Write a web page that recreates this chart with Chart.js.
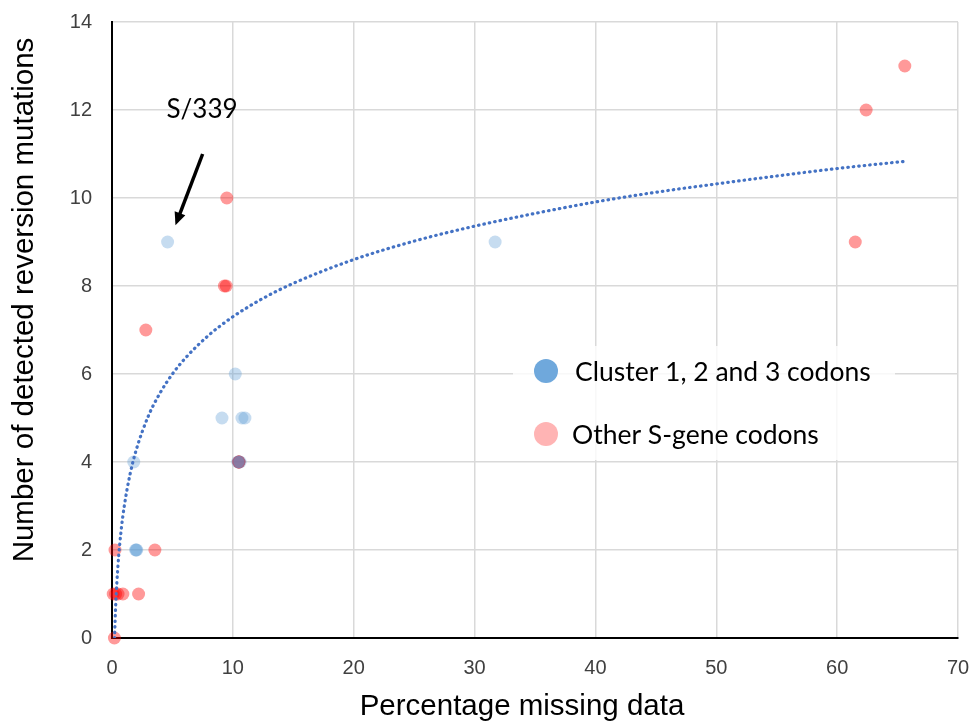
<!DOCTYPE html>
<html>
<head>
<meta charset="utf-8">
<script src="https://cdn.jsdelivr.net/npm/chart.js@4.4.1/dist/chart.umd.min.js"></script>
<style>
  html, body { margin: 0; padding: 0; background: #fff; }
  #wrap { width: 976px; height: 725px; }
</style>
</head>
<body>
<div id="wrap"><canvas id="reversionChart" width="976" height="725"></canvas></div>
<script>
// Данные
const clusterX = [4.6, 31.7, 10.2, 9.1, 10.75, 11.0, 1.8, 1.95, 2.0, 2.05, 10.4, 10.5, 10.6];
const clusterY = [9, 9, 6, 5, 5, 5, 4, 2, 2, 2, 4, 4, 4];

const otherX = [0.2, 0.1, 0.3, 0.5, 0.9, 2.2, 0.25, 3.55, 2.8, 9.3, 9.45, 9.5, 61.5, 62.4, 65.6, 10.5, 10.5, 10.5, 10.5];
const otherY = [0, 1, 1, 1, 1, 1, 2, 2, 7, 8, 8, 10, 9, 12, 13, 4, 4, 4, 4];

const trendX = [0.21, 0.3, 0.5, 0.75, 1, 1.5, 2, 3, 4, 5, 6, 8, 10, 12.5, 15, 20, 25, 30, 35, 40, 45, 50, 55, 60, 65.5];
const trendY = [0.0, 0.71, 1.67, 2.43, 2.97, 3.73, 4.27, 5.04, 5.58, 6.0, 6.34, 6.88, 7.3, 7.72, 8.06, 8.6, 9.02, 9.36, 9.65, 9.91, 10.13, 10.32, 10.5, 10.67, 10.83];

const xTicks = [0, 10, 20, 30, 40, 50, 60, 70];
const yTicks = [0, 2, 4, 6, 8, 10, 12, 14];

const legendLabels = ['Cluster 1, 2 and 3 codons', 'Other S-gene codons'];
const annotationText = 'S/339';
const xTitle = 'Percentage missing data';
const yTitle = 'Number of detected reversion mutations';

function toPoints(xs, ys) {
    return xs.map((x, i) => ({ x: x, y: ys[i] }));
}

// Легенда, подписи осей и стрелка рисуются поверх графика
const overlayPlugin = {
    id: 'overlay',
    beforeDatasetsDraw(chart) {
        const ctx = chart.ctx;
        ctx.save();
        ctx.fillStyle = 'rgba(255,255,255,0.8)';
        ctx.fillRect(513, 346, 382, 114);
        ctx.restore();
    },
    afterDraw(chart) {
        const ctx = chart.ctx;
        const xs = chart.scales.x;
        const ys = chart.scales.y;
        ctx.save();

        // подписи осей
        ctx.font = '29.5px "Liberation Sans"';
        ctx.fillStyle = '#000';
        ctx.textAlign = 'center';
        ctx.textBaseline = 'middle';
        ctx.fillText(xTitle, 522, 707);
        ctx.save();
        ctx.translate(25, 300);
        ctx.rotate(-Math.PI / 2);
        ctx.fillText(yTitle, 0, 0);
        ctx.restore();

        // легенда
        const markers = ['rgba(111,168,220,1)', 'rgba(255,180,180,1)'];
        const rows = [371, 434];
        ctx.font = '26.5px Lato';
        rows.forEach((ry, i) => {
            ctx.beginPath();
            ctx.arc(546, ry, 12, 0, Math.PI * 2);
            ctx.fillStyle = markers[i];
            ctx.fill();
            ctx.fillStyle = '#000';
            ctx.textAlign = 'left';
            ctx.fillText(legendLabels[i], i === 0 ? 575 : 572, ry + 1);
        });

        // подпись S/339
        ctx.font = '26px Lato';
        ctx.textAlign = 'center';
        ctx.fillText(annotationText, xs.getPixelForValue(7.45), ys.getPixelForValue(12.0));

        // стрелка
        const x1 = xs.getPixelForValue(7.5), y1 = ys.getPixelForValue(11.0);
        const x2 = xs.getPixelForValue(5.25), y2 = ys.getPixelForValue(9.38);
        const ang = Math.atan2(y2 - y1, x2 - x1);
        const head = 14;
        ctx.strokeStyle = '#000';
        ctx.lineWidth = 3.5;
        ctx.beginPath();
        ctx.moveTo(x1, y1);
        ctx.lineTo(x2 - Math.cos(ang) * head * 0.8, y2 - Math.sin(ang) * head * 0.8);
        ctx.stroke();
        ctx.fillStyle = '#000';
        ctx.beginPath();
        ctx.moveTo(x2, y2);
        ctx.lineTo(x2 - head * Math.cos(ang - 0.42), y2 - head * Math.sin(ang - 0.42));
        ctx.lineTo(x2 - head * Math.cos(ang + 0.42), y2 - head * Math.sin(ang + 0.42));
        ctx.closePath();
        ctx.fill();
        ctx.restore();
    }
};

document.addEventListener('DOMContentLoaded', function() {
    const ctx = document.getElementById('reversionChart').getContext('2d');
    new Chart(ctx, {
        type: 'scatter',
        data: {
            datasets: [{
                label: 'Trend',
                data: toPoints(trendX, trendY),
                showLine: true,
                pointRadius: 0,
                borderColor: '#4472c4',
                borderWidth: 3.2,
                borderDash: [0.5, 5],
                borderCapStyle: 'round',
                cubicInterpolationMode: 'monotone',
                tension: 0.4,
                fill: false,
                order: 0
            }, {
                label: legendLabels[0],
                data: toPoints(clusterX, clusterY),
                backgroundColor: 'rgba(91,155,213,0.35)',
                borderWidth: 0,
                pointRadius: 6.5,
                clip: false,
                order: 1
            }, {
                label: legendLabels[1],
                data: toPoints(otherX, otherY),
                backgroundColor: 'rgba(255,0,0,0.4)',
                borderWidth: 0,
                pointRadius: 6.5,
                clip: false,
                order: 2
            }]
        },
        options: {
            responsive: false,
            animation: false,
            layout: { padding: { top: 22, right: 18, left: 0, bottom: 0 } },
            plugins: {
                legend: { display: false },
                tooltip: { enabled: false }
            },
            scales: {
                x: {
                    type: 'linear',
                    min: 0,
                    max: 70,
                    afterBuildTicks: s => { s.ticks = xTicks.map(v => ({ value: v })); },
                    afterFit: s => { s.height = 87; s.paddingLeft = 0; s.paddingRight = 0; },
                    grid: { color: '#d9d9d9', lineWidth: 1.5, drawTicks: false },
                    border: { color: '#000', width: 2 },
                    ticks: { color: '#404040', font: { family: 'Liberation Sans', size: 20 }, padding: 18 }
                },
                y: {
                    type: 'linear',
                    min: 0,
                    max: 14,
                    afterBuildTicks: s => { s.ticks = yTicks.map(v => ({ value: v })); },
                    afterFit: s => { s.width = 112; s.paddingTop = 0; s.paddingBottom = 0; },
                    grid: { color: '#d9d9d9', lineWidth: 1.5, drawTicks: false },
                    border: { color: '#000', width: 2 },
                    ticks: { color: '#404040', font: { family: 'Liberation Sans', size: 20 }, padding: 20 }
                }
            }
        },
        plugins: [overlayPlugin]
    });
});
</script>
</body>
</html>
